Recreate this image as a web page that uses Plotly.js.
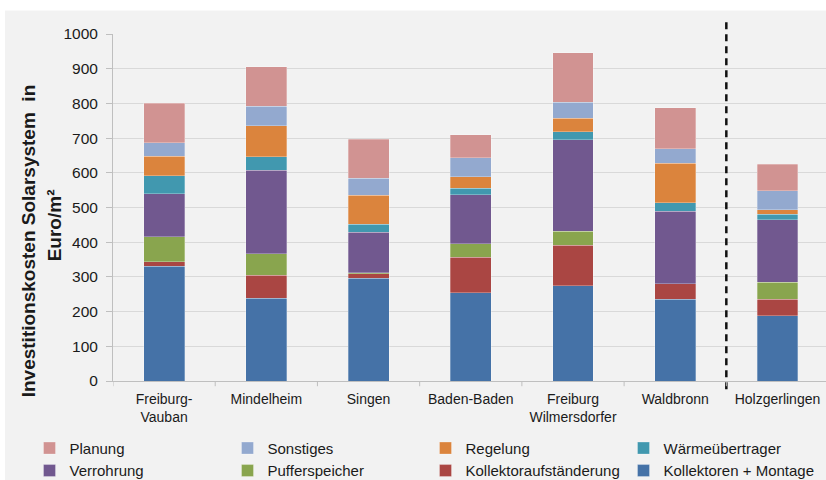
<!DOCTYPE html>
<html>
<head>
<meta charset="utf-8">
<script src="https://cdn.plot.ly/plotly-3.0.1.min.js"></script>
<style>html,body{margin:0;padding:0;background:#fff;}#chart{width:826px;height:480px;}</style>
</head>
<body>
<div id="chart"></div>
<script>
var categories = ["Freiburg-<br>Vauban", "Mindelheim", "Singen", "Baden-Baden", "Freiburg<br>Wilmersdorfer", "Waldbronn", "Holzgerlingen"];
var kollektorenMontage   = [331, 239, 296, 255, 275, 235, 188];
var kollektoraufstaenderung = [13, 66, 13, 101, 116, 45, 47];
var pufferspeicher       = [72, 62, 3, 40, 40, 0, 50];
var verrohrung           = [123, 240, 117, 141, 264, 209, 179];
var waermeuebertrager    = [53, 39, 23, 18, 23, 24, 16];
var regelung             = [56, 90, 83, 34, 39, 114, 14];
var sonstiges            = [38, 56, 50, 54, 46, 42, 55];
var planung              = [114, 113, 111, 67, 143, 119, 75];
var yTicks = [0, 100, 200, 300, 400, 500, 600, 700, 800, 900, 1000];

var seriesNames = ["Kollektoren + Montage", "Kollektoraufständerung", "Pufferspeicher", "Verrohrung", "Wärmeübertrager", "Regelung", "Sonstiges", "Planung"];
var seriesValues = [kollektorenMontage, kollektoraufstaenderung, pufferspeicher, verrohrung, waermeuebertrager, regelung, sonstiges, planung];
var seriesColors = ["#4572a7", "#aa4643", "#89a54e", "#71588f", "#4198af", "#db843d", "#93a9cf", "#d19392"];

var xIdx = categories.map(function(_, i){ return i; });
var traces = seriesNames.map(function(n, k){
  return {
    type: "bar", name: n, x: xIdx, y: seriesValues[k],
    marker: {color: seriesColors[k], line: {color: "rgba(255,255,255,0.35)", width: 0.8}},
    hoverinfo: "name+y"
  };
});

var font = "'Liberation Sans', Arial, sans-serif";
var layout = {
  width: 826, height: 480,
  margin: {l: 113, r: 0, t: 33.7, b: 99.3, autoexpand: false},
  paper_bgcolor: "#f2f2f2", plot_bgcolor: "#f2f2f2",
  barmode: "stack", bargap: 0.6,
  font: {family: font, color: "#1a1a1a"},
  showlegend: true,
  legend: {
    orientation: "h", traceorder: "reversed",
    x: (29.5 - 113) / 713, y: (380.7 - 431.5) / 347, xanchor: "left", yanchor: "top",
    entrywidth: 153, entrywidthmode: "pixels",
    font: {size: 15, color: "#1a1a1a", family: font},
    bgcolor: "rgba(0,0,0,0)", tracegroupgap: 0, itemwidth: 30
  },
  xaxis: {
    type: "linear", range: [-0.5, 6.475],
    tickmode: "array", tickvals: xIdx, ticktext: categories,
    showgrid: false, zeroline: false,
    showline: true, linecolor: "#bfbfbf", linewidth: 1,
    ticks: "", ticklabelstandoff: 5,
    tickfont: {size: 14, color: "#1a1a1a", family: font},
    fixedrange: true
  },
  yaxis: {
    range: [0, 1000], tickmode: "array", tickvals: yTicks,
    showgrid: true, gridcolor: "#d9d9d9", gridwidth: 1,
    zeroline: false, showline: true, linecolor: "#bfbfbf", linewidth: 1,
    ticks: "outside", ticklen: 6, tickcolor: "#bfbfbf", ticklabelstandoff: 5,
    tickfont: {size: 15.5, color: "#1a1a1a", family: font},
    fixedrange: true
  },
  shapes: [
    {type: "line", xref: "x", yref: "paper", x0: 5.5, x1: 5.5, y0: 1.034, y1: -0.033,
     line: {color: "#111", width: 2.5, dash: "7px,5px"}},
    {type: "rect", xref: "paper", yref: "paper", x0: -0.2, x1: 1.01, y0: 1.068, y1: 1.12,
     fillcolor: "#ffffff", line: {width: 0}, layer: "below"},
    {type: "rect", xref: "paper", yref: "paper", x0: -0.2, x1: -0.1515, y0: -0.3, y1: 1.12,
     fillcolor: "#ffffff", line: {width: 0}, layer: "below"}
  ],
  annotations: [
    {text: "Investitionskosten Solarsystem  in", textangle: -90, xref: "paper", yref: "paper",
     x: (28 - 113) / 713, y: (380.7 - 241) / 347, xanchor: "center", yanchor: "middle",
     showarrow: false, font: {size: 19, family: font, color: "#1a1a1a", weight: "bold"}},
    {text: "Euro/m²", textangle: -90, xref: "paper", yref: "paper",
     x: (54 - 113) / 713, y: (380.7 - 225) / 347, xanchor: "center", yanchor: "middle",
     showarrow: false, font: {size: 19, family: font, color: "#1a1a1a", weight: "bold"}}
  ]
};
// category boundary tick marks on x-axis
for (var i = 0; i <= categories.length; i++) {
  var b = i - 0.5;
  if (b > 6.475) break;
  layout.shapes.push({type: "line", xref: "x", yref: "paper", x0: b, x1: b, y0: 0, y1: -0.015,
    line: {color: "#bfbfbf", width: 1}});
}
Plotly.newPlot("chart", traces, layout, {displayModeBar: false, staticPlot: true});
</script>
</body>
</html>
